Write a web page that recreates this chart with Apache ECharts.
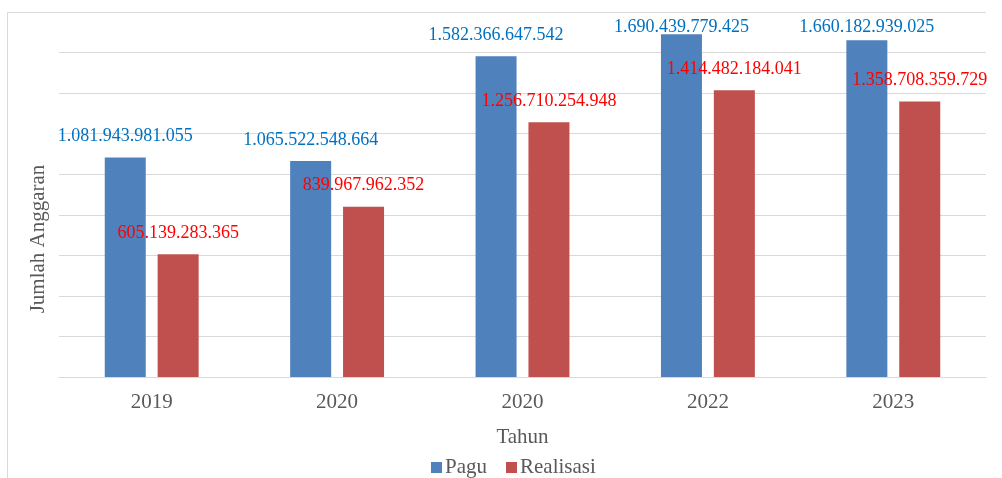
<!DOCTYPE html>
<html>
<head>
<meta charset="utf-8">
<script src="https://cdn.jsdelivr.net/npm/echarts@6/dist/echarts.min.js"></script>
<style>
  html, body { margin: 0; padding: 0; background: #ffffff; }
  #chart { width: 1002px; height: 478px; }
</style>
</head>
<body>
<div id="chart"></div>
<script>
// Budget (Pagu) vs. realised spending (Realisasi) per year, in rupiah
const categories = ['2019', '2020', '2020', '2022', '2023'];
const paguValues = [1081943981055, 1065522548664, 1582366647542, 1690439779425, 1660182939025];
const realisasiValues = [605139283365, 839967962352, 1256710254948, 1414482184041, 1358708359729];
const seriesNames = ['Pagu', 'Realisasi'];

const SERIF = '"Liberation Serif", "Times New Roman", serif';

// Indonesian thousands separator: 1.081.943.981.055
function fmt(v) {
  return String(v).replace(/\B(?=(\d{3})+(?!\d))/g, '.');
}

// Tall bars near the top of the frame get their label pulled down a little
const paguLabelDistance = { 3: -2, 4: 4 };

const chart = echarts.init(document.getElementById('chart'), null, { renderer: 'canvas' });

chart.setOption({
  animation: false,
  backgroundColor: '#ffffff',
  textStyle: { fontFamily: SERIF },
  grid: { left: 59, right: 16, top: 12, bottom: 101, containLabel: false },
  legend: {
    data: seriesNames,
    left: 426,
    top: 452,
    itemWidth: 11,
    itemHeight: 11,
    itemGap: 19,
    icon: 'rect',
    textStyle: { fontFamily: SERIF, fontSize: 21, color: '#595959', padding: [0, 0, 0, -2] }
  },
  xAxis: {
    type: 'category',
    data: categories,
    name: 'Tahun',
    nameLocation: 'middle',
    nameGap: 50,
    nameTextStyle: { fontFamily: SERIF, fontSize: 21, color: '#595959' },
    axisLine: { lineStyle: { color: '#D9D9D9', width: 1 } },
    axisTick: { show: false },
    axisLabel: { fontFamily: SERIF, fontSize: 21, color: '#595959', margin: 15 }
  },
  yAxis: {
    type: 'value',
    min: 0,
    max: 1800000000000,
    interval: 200000000000,
    axisLine: { show: false },
    axisTick: { show: false },
    axisLabel: { show: false },
    splitLine: { lineStyle: { color: '#D9D9D9', width: 1 } }
  },
  graphic: [
    { type: 'line', shape: { x1: 7.5, y1: 12.5, x2: 986, y2: 12.5 }, style: { stroke: '#D9D9D9', lineWidth: 1 }, silent: true },
    { type: 'line', shape: { x1: 7.5, y1: 12.5, x2: 7.5, y2: 478 }, style: { stroke: '#D9D9D9', lineWidth: 1 }, silent: true },
    {
      type: 'text',
      x: 38, y: 239,
      rotation: Math.PI / 2,
      style: {
        text: 'Jumlah Anggaran',
        font: '21px ' + SERIF,
        fill: '#595959',
        align: 'center',
        verticalAlign: 'middle'
      },
      silent: true
    }
  ],
  series: [
    {
      name: seriesNames[0],
      type: 'bar',
      barWidth: 41,
      barGap: '29%',
      itemStyle: { color: '#4F81BD' },
      label: {
        show: true,
        position: 'top',
        distance: 12,
        fontFamily: SERIF,
        fontSize: 18,
        color: '#0070C0',
        formatter: p => fmt(p.value)
      },
      data: paguValues.map((v, i) =>
        paguLabelDistance[i] !== undefined ? { value: v, label: { distance: paguLabelDistance[i] } } : v)
    },
    {
      name: seriesNames[1],
      type: 'bar',
      barWidth: 41,
      itemStyle: { color: '#C0504D' },
      label: {
        show: true,
        position: 'top',
        distance: 12,
        fontFamily: SERIF,
        fontSize: 18,
        color: '#FF0000',
        formatter: p => fmt(p.value)
      },
      data: realisasiValues
    }
  ]
});
</script>
</body>
</html>
